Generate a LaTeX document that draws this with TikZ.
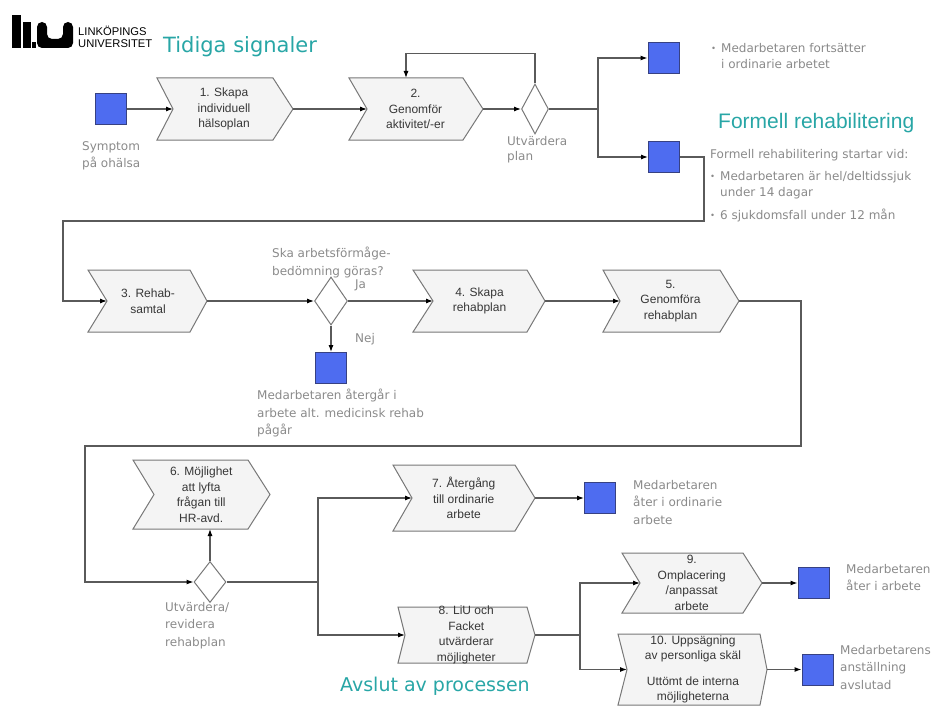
\documentclass[tikz,border=0pt]{standalone}
\usepackage{fontspec}
\setmainfont{Liberation Sans}
\newfontfamily\verdanalike{DejaVu Sans}
\usepackage{tikz}
\usetikzlibrary{shapes.geometric, arrows.meta}

\definecolor{liublue}{RGB}{78,108,240}
\definecolor{liuborder}{RGB}{55,65,130}
\definecolor{liuteal}{RGB}{40,166,166}
\definecolor{notegray}{RGB}{138,138,138}
\definecolor{linegray}{RGB}{90,90,90}
\definecolor{boxgray}{RGB}{244,244,244}
\definecolor{boxline}{RGB}{120,120,120}
\definecolor{boxtextgray}{RGB}{55,55,55}

\tikzset{
  arr/.style={draw=linegray, line width=1.1pt, -{Latex[length=7pt,width=5pt,color=black]}},
  trunk/.style={draw=linegray, line width=2.2pt},
  endsq/.style={draw=liuborder, fill=liublue, line width=1pt, minimum width=31pt, minimum height=31pt, inner sep=0pt},
  decision/.style={diamond, draw=boxline, fill=white, line width=1pt, inner sep=0pt},
  boxtext/.style={font=\fontsize{12}{15.5}\selectfont, text=boxtextgray, align=center, inner sep=0pt},
  note/.style={font=\verdanalike\fontsize{12}{17.5}\selectfont, text=notegray, align=left, anchor=north west, inner sep=0pt},
  heading/.style={text=liuteal, anchor=west, inner sep=0pt}
}

\newcommand{\procbox}[8]{%
  \draw[draw=boxline, fill=boxgray, line width=1pt]
    (#2,#3) -- (#4,#3) -- ({#4+#7},{(#3+#5)/2}) coordinate (#1-out)
    -- (#4,#5) -- (#2,#5) -- ({#2+#6},{(#3+#5)/2}) coordinate (#1-in) -- cycle;
  \coordinate (#1-top) at ({(#2+#4)/2},#3);
  \coordinate (#1-bot) at ({(#2+#4)/2},#5);
  \node[boxtext] (#1) at ({(#2+#4)/2+(#6+#7)/4},{(#3+#5)/2}) {#8};
}
\newcommand{\blt}{\makebox[10pt][l]{\raisebox{0.5pt}{\fontsize{8.5}{8.5}\selectfont•}}}

\begin{document}
\begin{tikzpicture}[x=1pt, y=-1pt]
			\useasboundingbox (0,0) rectangle (939,706);
			\fill (12,15) rectangle (21,48);
			\fill (23,22) rectangle (31,48);
			\fill (32,42) rectangle (36,48);
			\fill[rounded corners=5] (37,22) -- (37,48) -- (73,48) -- (73,22) -- (63,22) -- (63,39) -- (47,39) -- (47,22) -- cycle;
			\node[anchor=west, inner sep=0pt, align=left, font=\fontsize{11.2}{12}\selectfont] (liuname) at (78,37) {LINKÖPINGS\\UNIVERSITET};
			\node[heading, font=\verdanalike\fontsize{21}{24}\selectfont] (early) at (163,47) {Tidiga signaler};
			\node[heading, font=\fontsize{21}{24}\selectfont] (formal) at (718,123) {Formell rehabilitering};
			\node[heading, font=\verdanalike\fontsize{19}{22}\selectfont] (closing) at (340,686) {Avslut av processen};
			\procbox{box1}{157}{78}{273}{140}{16}{20}{1. Skapa\\individuell\\hälsoplan}
			\procbox{box2}{349}{78}{463}{140}{18}{20}{2.\\Genomför\\aktivitet/-er}
			\procbox{box3}{88}{270}{190}{332}{19}{17}{3. Rehab-\\samtal}
			\procbox{box4}{413}{270}{527}{332}{20}{18}{4. Skapa\\rehabplan}
			\procbox{box5}{603}{270}{720}{332}{17}{19}{5.\\Genomföra\\rehabplan}
			\procbox{box6}{133}{460}{248}{529}{21}{22}{6. Möjlighet\\att lyfta\\frågan till\\HR-avd.}
			\procbox{box7}{393}{465}{515}{531}{19}{20}{7. Återgång\\till ordinarie\\arbete}
			\procbox{box8}{398}{607}{527}{663}{7}{8}{8. LiU och\\Facket\\utvärderar\\möjligheter}
			\procbox{box9}{622}{553}{743}{613}{18}{19}{9.\\Omplacering\\/anpassat\\arbete}
			\procbox{box10}{618}{634}{760}{705}{9}{7}{10. Uppsägning\\av personliga skäl\\[10pt]Uttömt de interna\\möjligheterna}
			\node[decision, minimum width=27pt, minimum height=50pt] (d1) at (535,109) {};
			\node[decision, minimum width=33pt, minimum height=48pt] (d2) at (331,301) {};
			\node[decision, minimum width=32pt, minimum height=41pt] (d3) at (210,582) {};
			\node[endsq] (sq0) at (111,109) {};
			\node[endsq] (sqA) at (663.5,58) {};
			\node[endsq] (sqB) at (664,157) {};
			\node[endsq] (sqC) at (331,368) {};
			\node[endsq] (sqD) at (600,498) {};
			\node[endsq] (sqE) at (813.5,583) {};
			\node[endsq] (sqF) at (817.5,669.5) {};
			\node[note] (symptom) at (82,141) {Symptom\\på ohälsa};
			\node[note, font=\verdanalike\fontsize{12}{15.5}\selectfont] (evalplan) at (507,136) {Utvärdera\\plan};
			\node[note, font=\verdanalike\fontsize{12}{16}\selectfont] (continues) at (711,43) {\blt Medarbetaren fortsätter\\\hspace*{10pt}i ordinarie arbetet};
			\node[note, font=\verdanalike\fontsize{12}{16}\selectfont] (starts) at (710,149) {Formell rehabilitering startar vid:\\[6pt]\blt Medarbetaren är hel/deltidssjuk\\\hspace*{10pt}under 14 dagar\\[7pt]\blt 6 sjukdomsfall under 12 mån};
			\node[note] (question) at (272,247) {Ska arbetsförmåge-\\bedömning göras?};
			\node[note] (yes) at (355,280) {Ja};
			\node[note] (no) at (355,333) {Nej};
			\node[note] (noreturn) at (257,389) {Medarbetaren återgår i\\arbete alt. medicinsk rehab\\pågår};
			\node[note] (revise) at (165,602) {Utvärdera/\\revidera\\rehabplan};
			\node[note] (backord) at (633,480) {Medarbetaren\\åter i ordinarie\\arbete};
			\node[note] (backwork) at (846,564) {Medarbetaren\\åter i arbete};
			\node[note] (ended) at (840,645) {Medarbetarens\\anställning\\avslutad};
			\coordinate (br1) at (598,109);
			\coordinate (wrap1) at (704,221);
			\coordinate (wrap1b) at (63,221);
			\coordinate (wrap2) at (801,446);
			\coordinate (wrap2b) at (85,446);
			\coordinate (br2) at (318,582);
			\coordinate (br3) at (580,635);
			\draw[arr] (sq0.east) -- (box1-in);
			\draw[arr] (box1-out) -- (box2-in);
			\draw[arr] (box2-out) -- (d1.west);
			\draw[arr] (d1.north) -- ++(0,-30) -| (box2-top);
			\draw[trunk] (d1.east) -- (br1);
			\draw[arr] (br1) |- (sqA.west);
			\draw[arr] (br1) |- (sqB.west);
			\draw[arr] (sqB.east) -| (wrap1) -- (wrap1b) |- (box3-in);
			\draw[arr] (box3-out) -- (d2.west);
			\draw[arr] (d2.east) -- (box4-in);
			\draw[arr] (d2.south) -- (sqC.north);
			\draw[arr] (box4-out) -- (box5-in);
			\draw[arr] (box5-out) -| (wrap2) -- (wrap2b) |- (d3.west);
			\draw[arr] (d3.north) -- (d3.north |- box6-bot);
			\draw[trunk] (d3.east) -- (br2);
			\draw[arr] (br2) |- (box7-in);
			\draw[arr] (br2) |- (box8-in);
			\draw[arr] (box7-out) -- (sqD.west);
			\draw[trunk] (box8-out) -- (br3);
			\draw[arr] (br3) |- (box9-in);
			\draw[arr] (br3) |- (box10-in);
			\draw[arr] (box9-out) -- (sqE.west);
			\draw[arr] (box10-out) -- (sqF.west);
		\end{tikzpicture}
\end{document}
